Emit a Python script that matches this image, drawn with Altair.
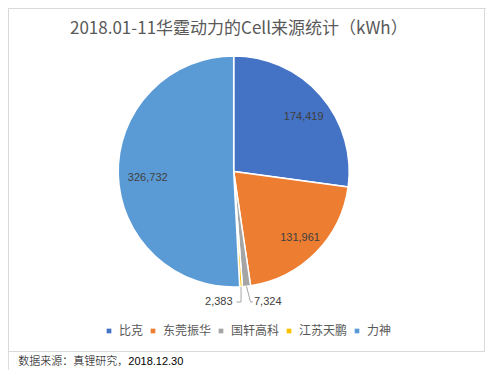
import altair as alt
import pandas as pd

# ---- data ----
categories = ["比克", "东莞振华", "国轩高科", "江苏天鹏", "力神"]
values = [174419, 131961, 7324, 2383, 326732]
colors = ["#4472C4", "#ED7D31", "#A5A5A5", "#FFC000", "#5B9BD5"]
title_text = "2018.01-11华霆动力的Cell来源统计（kWh）"
source_text = "数据来源：真锂研究，2018.12.30"

df = pd.DataFrame({"cat": categories, "value": values, "idx": list(range(len(categories)))})

W, H = 478, 362
CX, CY, R = 225.7, 163.5, 115.5
LATIN = "Liberation Sans, Noto Sans CJK SC, sans-serif"
CJK = "Noto Sans CJK SC, sans-serif"

base = alt.Chart(df)

color = alt.Color(
    "cat:N",
    scale=alt.Scale(domain=categories, range=colors),
    sort=categories,
    legend=alt.Legend(
        title=None,
        orient="none",
        legendX=95,
        legendY=317,
        direction="horizontal",
        symbolType="square",
        symbolSize=22,
        symbolStrokeWidth=0,
        labelFont=CJK,
        labelFontSize=12,
        labelColor="#595959",
        labelOffset=4,
        columnPadding=3,
        padding=0,
    ),
)

pie = base.mark_arc(radius=R, stroke="white", strokeWidth=1.5).encode(
    theta=alt.Theta("value:Q", stack=True),
    color=color,
    order=alt.Order("idx:Q"),
    x=alt.value(CX),
    y=alt.value(CY),
)

inside = (
    base.transform_joinaggregate(total="sum(value)")
    .transform_calculate(frac="datum.value / datum.total")
    .mark_text(radius=89, dx=3, dy=4, fontSize=11, color="#404040", font=LATIN)
    .encode(
        theta=alt.Theta("value:Q", stack=True),
        order=alt.Order("idx:Q"),
        text=alt.Text("value:Q", format=","),
        x=alt.value(CX),
        y=alt.value(CY),
        opacity=alt.condition("datum.frac > 0.05", alt.value(1), alt.value(0)),
    )
)

outer_base = (
    base.transform_window(cum="sum(value)", sort=[alt.SortField("idx")], frame=[None, 0])
    .transform_joinaggregate(total="sum(value)")
    .transform_calculate(mid="(datum.cum - datum.value / 2) / datum.total * 2 * PI")
    .transform_filter("datum.value / datum.total < 0.05")
    .transform_calculate(
        side="datum.mid > PI * 0.975 ? -1 : 1",
        ex=f"{CX} + {R} * sin(datum.mid)",
        ey=f"{CY} - {R} * cos(datum.mid)",
        ky=f"{CY} + {R} + 15",
    )
    .transform_calculate(
        kx="datum.side < 0 ? datum.ex : datum.ex + 4",
    )
    .transform_calculate(
        endx="datum.kx + datum.side * (datum.side < 0 ? 4.5 : 2.5)",
    )
    .transform_calculate(
        tx="datum.endx + datum.side * (datum.side < 0 ? 4 : 1)",
    )
)

seg1 = outer_base.mark_rule(color="#A6A6A6", strokeWidth=1).encode(
    x=alt.X("ex:Q", scale=None),
    y=alt.Y("ey:Q", scale=None),
    x2="kx:Q",
    y2="ky:Q",
)
seg2 = outer_base.mark_rule(color="#A6A6A6", strokeWidth=1).encode(
    x=alt.X("kx:Q", scale=None),
    y=alt.Y("ky:Q", scale=None),
    x2="endx:Q",
    y2="ky:Q",
)
left_lbl = outer_base.transform_filter("datum.side < 0").mark_text(
    align="right", baseline="middle", fontSize=11, color="#404040", font=LATIN
).encode(
    x=alt.X("tx:Q", scale=None),
    y=alt.Y("ky:Q", scale=None),
    text=alt.Text("value:Q", format=","),
)
right_lbl = outer_base.transform_filter("datum.side > 0").mark_text(
    align="left", baseline="middle", fontSize=11, color="#404040", font=LATIN
).encode(
    x=alt.X("tx:Q", scale=None),
    y=alt.Y("ky:Q", scale=None),
    text=alt.Text("value:Q", format=","),
)

one = alt.Chart(pd.DataFrame({"t": [title_text], "s": [source_text]}))

border = one.mark_rect(filled=False, stroke="#D9D9D9", strokeWidth=1).encode(
    x=alt.value(0.5), x2=alt.value(476.5), y=alt.value(0.5), y2=alt.value(343.5)
)
title = one.mark_text(
    align="center", baseline="alphabetic", fontSize=17, color="#595959", font=CJK
).encode(text="t:N", x=alt.value(230.8), y=alt.value(26.3))
source = one.mark_text(
    align="left", baseline="middle", fontSize=11, fontWeight=300, color="#000000", font=LATIN
).encode(text="s:N", x=alt.value(10.3), y=alt.value(353.7))

chart = (
    alt.layer(border, pie, inside, seg1, seg2, left_lbl, right_lbl, title, source)
    .resolve_scale(theta="shared")
    .properties(width=W, height=H, autosize=alt.AutoSizeParams(type="none"), padding=0)
    .configure_view(stroke=None)
    .configure(background="white")
)

chart.save("out.html", embed_options={"renderer": "svg", "actions": False})
